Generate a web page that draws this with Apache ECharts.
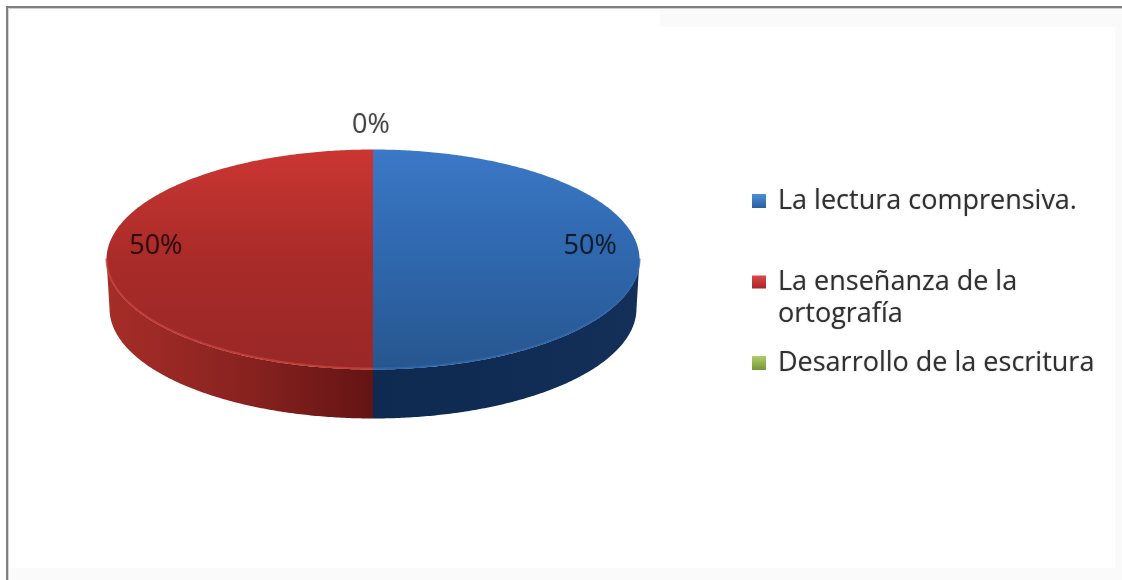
<!DOCTYPE html>
<html>
<head>
<meta charset="utf-8">
<style>html,body{margin:0;padding:0;background:#fff}#c{width:1122px;height:580px}</style>
<script src="https://cdn.jsdelivr.net/npm/echarts@6/dist/echarts.min.js"></script>
</head>
<body>
<div id="c"></div>
<script>
var categories = ['La lectura comprensiva.', 'La enseñanza de la\nortografía', 'Desarrollo de la escritura'];
var values = [50, 50, 0];
var percentLabels = ['50%', '50%', '0%'];

var FONT = '"Open Sans", Lato, sans-serif';
var total = values.reduce(function (a, b) { return a + b; }, 0);
var CX = 373, CY = 259.5, RX = 266.5, RY = 110, DEPTH = 49, BOTTOM_INSET = 3;
function grad(x1, y1, x2, y2, c1, c2, c3) {
  var s = [{ offset: 0, color: c1 }, { offset: c3 ? .5 : 1, color: c2 }];
  if (c3) s.push({ offset: 1, color: c3 });
  return new echarts.graphic.LinearGradient(x1, y1, x2, y2, s);
}
var topFill = [
  function () { return grad(0, 0, 0, 1, '#3b78c6', '#2f67ad', '#27568f'); },
  function () { return grad(0, 0, 0, 1, '#cb3632', '#a92b29', '#982826'); },
  function () { return grad(0, 0, 0, 1, '#9bbb59', '#7f9d46'); }
];
var wallFill = [
  function () { return grad(0, 0, 1, 0, '#0e2a50', '#102c54', '#142f58'); },
  function () { return grad(0, 0, 1, 0, '#a62d28', '#8a2320', '#641414'); },
  function () { return grad(0, 0, 1, 0, '#5f7a30', '#5f7a30'); }
];
var rimColor = ['#2f69ad', '#c8423c', '#a8c668'];
// the middle legend mark sits in the upper part of its tall symbol box
var legendFill = [
  function () { return grad(0, 0, 0, 1, '#4f8fd6', '#2a5f9f'); },
  function () {
    return new echarts.graphic.LinearGradient(0, 0, 0, 1, [
      { offset: 0, color: '#dc4a48' }, { offset: 0.29, color: '#a5262a' }, { offset: 1, color: '#a5262a' }
    ]);
  },
  function () { return grad(0, 0, 0, 1, '#b0cf6a', '#76963a'); }
];
// angle measured clockwise from the top of the pie
function pt(a, oy, inset) {
  return [CX + (RX - (inset || 0)) * Math.sin(a), CY + (oy || 0) - RY * Math.cos(a)];
}
function arcPts(a0, a1, oy, inset) {
  var n = Math.max(2, Math.ceil(Math.abs(a1 - a0) / 0.01)), r = [];
  for (var i = 0; i <= n; i++) r.push(pt(a0 + (a1 - a0) * i / n, oy, inset));
  return r;
}
function makeItem(idx) {
  return function (params, api) {
    var v = api.value(0);
    var before = 0;
    for (var i = 0; i < idx; i++) before += values[i];
    var a0 = before / total * 2 * Math.PI, a1 = (before + v) / total * 2 * Math.PI;
    var mid = (a0 + a1) / 2, kids = [];
    if (v > 0) {
      var w0 = Math.max(a0, Math.PI / 2), w1 = Math.min(a1, 3 * Math.PI / 2);
      if (w1 > w0) {
        kids.push({
          type: 'polygon',
          shape: { points: arcPts(w0, w1, 0).concat(arcPts(w1, w0, DEPTH, BOTTOM_INSET)) },
          style: { fill: wallFill[idx]() }
        });
      }
      kids.push({
        type: 'polygon',
        shape: { points: [[CX, CY]].concat(arcPts(a0, a1, 0)) },
        style: { fill: topFill[idx]() }
      });
      if (w1 > w0) {
        kids.push({
          type: 'polyline',
          shape: { points: arcPts(w0, w1, -1) },
          style: { fill: null, stroke: rimColor[idx], lineWidth: 2, opacity: .8 }
        });
      }
    }
    var lx, ly;
    if (v > 0) {
      lx = CX + RX * 0.815 * Math.sin(mid);
      ly = CY - 13 - RY * 0.81 * Math.cos(mid);
    } else {
      lx = CX - 2;
      ly = CY - RY * 1.22 * Math.cos(mid);
    }
    kids.push({
      type: 'text',
      style: {
        text: percentLabels[idx], x: lx, y: ly, align: 'center', verticalAlign: 'middle',
        font: '27px ' + FONT, fill: 'rgba(0,0,0,0.68)',
        textShadowBlur: 1.5, textShadowColor: 'rgba(0,0,0,0.35)'
      },
      z2: 10
    });
    return { type: 'group', children: kids };
  };
}
var series = categories.map(function (name, i) {
  return {
    type: 'custom', name: name, coordinateSystem: 'none', silent: true,
    data: [[values[i]]], renderItem: makeItem(i),
    itemStyle: { color: legendFill[i]() }, z: 2 + (i === 2 ? 1 : 0), clip: false
  };
});
var legendTops = [185, 266, 347];
var legendIcons = ['rect', 'path://M0 0H14V13H0Z M0 45H0.01V45.01H0Z', 'rect'];
var legendIconH = [14, 45, 14];
var legend = categories.map(function (name, i) {
  return {
    data: [name], left: 752, top: legendTops[i], orient: 'vertical', padding: 0,
    itemWidth: 14, itemHeight: legendIconH[i], selectedMode: false, icon: legendIcons[i],
    textStyle: {
      fontFamily: FONT, fontSize: 27, lineHeight: 32, color: '#303030', padding: [0, 0, 0, 7],
      textShadowBlur: 1.5, textShadowColor: 'rgba(0,0,0,0.3)'
    }
  };
});
var chart = echarts.init(document.getElementById('c'), null, { renderer: 'canvas' });
chart.setOption({
  animation: false,
  backgroundColor: '#ffffff',
  legend: legend,
  series: series,
  graphic: [
    { type: 'rect', silent: true, z: -1, shape: { x: 660, y: 9, width: 462, height: 18 }, style: { fill: '#fafafa' } },
    { type: 'rect', silent: true, z: -1, shape: { x: 8, y: 568, width: 1114, height: 12 }, style: { fill: '#fafafa' } },
    { type: 'rect', silent: true, z: -1, shape: { x: 1115, y: 9, width: 7, height: 571 }, style: { fill: '#fafafa' } },
    { type: 'rect', silent: true, z: 0, shape: { x: 6, y: 6, width: 1116, height: 2 }, style: { fill: '#7f7f7f' } },
    { type: 'rect', silent: true, z: 0, shape: { x: 6, y: 8, width: 1116, height: 1 }, style: { fill: '#cfcfcf' } },
    { type: 'rect', silent: true, z: 0, shape: { x: 6, y: 6, width: 2, height: 574 }, style: { fill: '#7f7f7f' } },
    { type: 'rect', silent: true, z: 0, shape: { x: 8, y: 8, width: 1, height: 572 }, style: { fill: '#d5d5d5' } }
  ]
});
</script>
</body>
</html>
